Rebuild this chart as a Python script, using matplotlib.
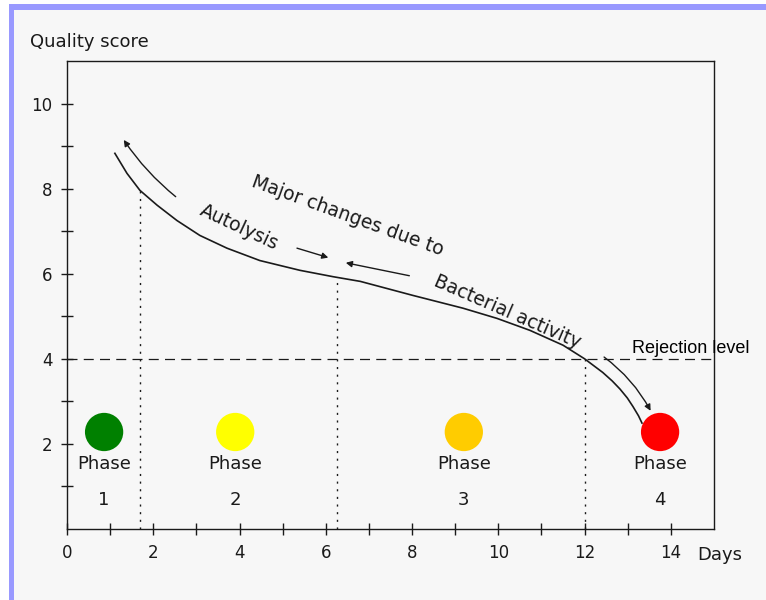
import matplotlib.pyplot as plt
from matplotlib.patches import Rectangle

# quality score curve (days, score)
days = [1.11, 1.39, 1.69, 2.09, 2.55, 3.08, 3.71, 4.47, 5.40, 6.17, 6.8, 8.02, 9.18,
        9.97, 10.73, 11.5, 12.0, 12.42, 12.64, 12.82, 12.99, 13.12, 13.25, 13.33]
score = [8.83, 8.36, 7.96, 7.61, 7.25, 6.90, 6.60, 6.31, 6.08, 5.93, 5.82, 5.49, 5.19,
         4.95, 4.67, 4.32, 4.0, 3.68, 3.48, 3.29, 3.08, 2.88, 2.66, 2.49]

# phase limits (days) and the score where the dotted line meets the curve
phase_limits = [1.69, 6.25, 12.0]
limit_scores = [7.96, 5.92, 4.0]
rejection = 4.0

phase_x = [0.86, 3.9, 9.2, 13.75]
phase_labels = ['1', '2', '3', '4']
phase_colors = ['#008000', '#ffff00', '#ffcc00', '#ff0000']

x_ticks = [0, 2, 4, 6, 8, 10, 12, 14]
y_ticks = [2, 4, 6, 8, 10]

ink = '#1a1a1a'

fig = plt.figure(figsize=(7.66, 6.0), dpi=100)
fig.patch.set_facecolor('white')
# framed page look: light background with a lavender border on left and top
fig.patches.append(Rectangle((9 / 766, 0), 1, 1 - 4 / 600, transform=fig.transFigure,
                             facecolor='#f7f7f7', edgecolor='none', zorder=-2))
fig.patches.append(Rectangle((9 / 766, 0), 5 / 766, 1 - 4 / 600, transform=fig.transFigure,
                             facecolor='#9999ff', edgecolor='none', zorder=-1))
fig.patches.append(Rectangle((9 / 766, 1 - 10 / 600), 1, 6 / 600, transform=fig.transFigure,
                             facecolor='#9999ff', edgecolor='none', zorder=-1))

ax = fig.add_axes([67 / 766, 1 - 529 / 600, (714 - 67) / 766, (529 - 61) / 600])
ax.set_facecolor('none')
ax.set_xlim(0, 15)
ax.set_ylim(0, 11)
for s in ax.spines.values():
    s.set_color(ink)
    s.set_linewidth(1.0)

ax.set_xticks(range(0, 15))
ax.set_xticklabels([str(t) if t in x_ticks else '' for t in range(0, 15)])
ax.set_yticks(range(1, 11))
ax.set_yticklabels([str(t) if t in y_ticks else '' for t in range(1, 11)])
ax.tick_params(direction='inout', length=9, width=1.0, color=ink, labelcolor=ink,
               labelsize=12, pad=6)

ax.plot(days, score, color=ink, lw=1.2, solid_joinstyle='round')
ax.axhline(rejection, color=ink, lw=0.9, ls=(0, (8, 5)))
for xl, yl in zip(phase_limits, limit_scores):
    ax.plot([xl, xl], [0, yl], color=ink, lw=1.0, ls=(0, (1.5, 4)))

# arrows
arrow = dict(arrowstyle='-|>', color=ink, lw=1.0, mutation_scale=9)
ax.annotate('', xy=(1.28, 9.2), xytext=(2.57, 7.77),
            arrowprops=dict(arrow, connectionstyle='arc3,rad=-0.08'))
ax.annotate('', xy=(6.12, 6.36), xytext=(5.27, 6.62), arrowprops=arrow)
ax.annotate('', xy=(6.4, 6.27), xytext=(8.0, 5.94), arrowprops=arrow)
ax.annotate('', xy=(13.56, 2.72), xytext=(12.4, 4.08),
            arrowprops=dict(arrow, connectionstyle='arc3,rad=-0.12'))

ax.text(6.5, 7.37, 'Major changes due to', rotation=-20, ha='center', va='center',
        fontsize=13.5, color=ink)
ax.text(4.0, 7.09, 'Autolysis', rotation=-25, ha='center', va='center',
        fontsize=13.5, color=ink)
ax.text(10.2, 5.1, 'Bacterial activity', rotation=-23.5, ha='center', va='center',
        fontsize=13.5, color=ink)
ax.text(13.1, 4.25, 'Rejection level', ha='left', va='center', fontsize=13,
        family='Liberation Sans', color='black', clip_on=False)

ax.scatter(phase_x, [2.28] * 4, s=760, c=phase_colors, edgecolors='none', zorder=3)
for px, lab in zip(phase_x, phase_labels):
    ax.text(px, 1.52, 'Phase', ha='center', va='center', fontsize=13, color=ink)
    ax.text(px, 0.68, lab, ha='center', va='center', fontsize=13, color=ink)

fig.text(30 / 766, 1 - 42 / 600, 'Quality score', ha='left', va='center',
         fontsize=13, color=ink)
fig.text(697 / 766, 1 - 555 / 600, 'Days', ha='left', va='center',
         fontsize=13, color=ink)

fig.savefig('out.png', dpi=100)
